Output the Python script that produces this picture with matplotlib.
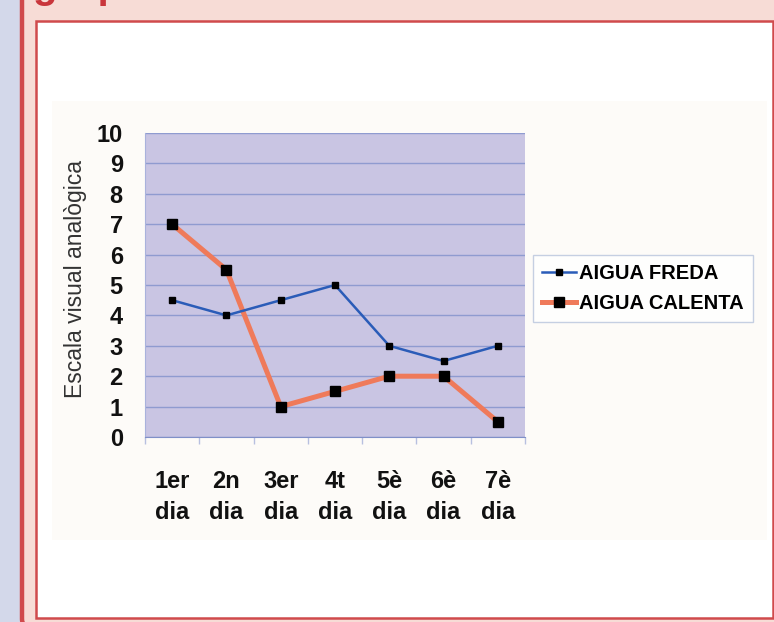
import matplotlib
matplotlib.use("Agg")
import matplotlib.pyplot as plt
from matplotlib.patches import Rectangle, FancyBboxPatch
from matplotlib.lines import Line2D

categories = ["1er\ndia", "2n\ndia", "3er\ndia", "4t\ndia", "5è\ndia", "6è\ndia", "7è\ndia"]
aigua_freda = [4.5, 4.0, 4.5, 5.0, 3.0, 2.5, 3.0]
aigua_calenta = [7.0, 5.5, 1.0, 1.5, 2.0, 2.0, 0.5]
y_ticks = list(range(0, 11))
y_label = "Escala visual analògica"
series_names = ["AIGUA FREDA", "AIGUA CALENTA"]
header_text = "grup d'estat"

W, H = 774, 622
fig = plt.figure(figsize=(W / 100, H / 100), dpi=100)
fig.patch.set_facecolor("white")
plt.rcParams["font.family"] = ["Liberation Sans", "DejaVu Sans"]

# background frame in pixel coordinates
bg = fig.add_axes([0, 0, 1, 1], zorder=-2)
bg.set_xlim(0, W)
bg.set_ylim(H, 0)
bg.axis("off")
bg.add_patch(Rectangle((0, 0), 22, H, facecolor="#d3d8ea", edgecolor="none"))
bg.add_patch(FancyBboxPatch((22, -40), 800, H + 45, boxstyle="round,pad=0,rounding_size=8",
                            facecolor="#f7dcd6", edgecolor="#d04a4c", linewidth=3.2))
bg.add_patch(Rectangle((36, 20.5), 737, 597.5, facecolor="white", edgecolor="#d04a4c", linewidth=1.8))
bg.add_patch(Rectangle((52, 101), 715, 439, facecolor="#fdfbf8", edgecolor="none"))
fig.text(33 / W, 1 + 2 / H, header_text, color="#c9363c", fontsize=29, fontweight="bold",
         va="baseline", ha="left")

# chart axes
left, right, top, bottom = 145, 525, 133, 437
ax = fig.add_axes([left / W, 1 - bottom / H, (right - left) / W, (bottom - top) / H])
ax.set_facecolor("#c9c5e3")
x = list(range(len(categories)))

ax.plot(x, aigua_calenta, color="#ef7a5a", linewidth=3.6, marker="s", markersize=7.5,
        markerfacecolor="black", markeredgecolor="black", zorder=3)
ax.plot(x, aigua_freda, color="#2a5cb8", linewidth=1.8, marker="s", markersize=5,
        markerfacecolor="black", markeredgecolor="black", zorder=4)

ax.set_xlim(-0.5, len(categories) - 0.5)
ax.set_ylim(0, 10)
ax.set_yticks(y_ticks)
ax.set_yticklabels([str(v) for v in y_ticks], fontsize=17, fontweight="bold", color="#111111")
ax.tick_params(axis="y", length=0, pad=16)
ax.set_xticks(x)
ax.set_xticklabels(categories, fontsize=17, fontweight="bold", color="#111111", linespacing=1.45)
ax.tick_params(axis="x", length=0, pad=24)
ax.set_xticks([i - 0.5 for i in range(len(categories) + 1)], minor=True)
ax.tick_params(axis="x", which="minor", length=5, color="#b8c0e0", width=1)
ax.grid(axis="y", color="#8f9bd0", linewidth=1)
ax.set_axisbelow(True)
for s in ["top", "right"]:
    ax.spines[s].set_visible(False)
ax.spines["left"].set_color("#a9b2dc")
ax.spines["bottom"].set_color("#8090c8")
ax.set_ylabel(y_label, fontsize=16.5, color="#333333")
ax.yaxis.set_label_coords(-0.152, 0.52)

handles = [
    Line2D([], [], color="#2a5cb8", linewidth=1.8, marker="s", markersize=5,
           markerfacecolor="black", markeredgecolor="black"),
    Line2D([], [], color="#ef7a5a", linewidth=3.6, marker="s", markersize=6.5,
           markerfacecolor="black", markeredgecolor="black"),
]
leg = fig.legend(handles, series_names, loc="upper left",
                 bbox_to_anchor=(533 / W, 1 - 255 / H), frameon=True, fancybox=False,
                 prop={"size": 14.5, "weight": "bold"}, handlelength=1.7, handletextpad=0.15,
                 borderpad=0.45, labelspacing=0.55, borderaxespad=0)
leg.get_frame().set_edgecolor("#b8c4dc")
leg.get_frame().set_linewidth(1)
leg.get_frame().set_facecolor("white")

fig.savefig("out.png", dpi=100)
